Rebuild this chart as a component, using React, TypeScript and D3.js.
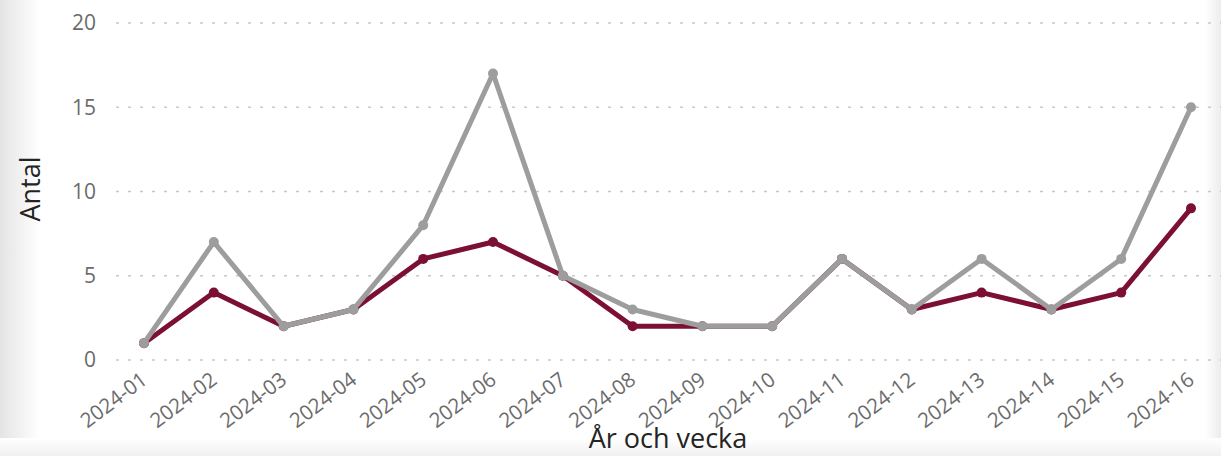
import React from "react";
import * as d3 from "d3";

const weeks = ["2024-01","2024-02","2024-03","2024-04","2024-05","2024-06","2024-07","2024-08","2024-09","2024-10","2024-11","2024-12","2024-13","2024-14","2024-15","2024-16"];
const seriesGray = [1,7,2,3,8,17,5,3,2,2,6,3,6,3,6,15];
const seriesRed = [1,4,2,3,6,7,5,2,2,2,6,3,4,3,4,9];
const yTicks = [0,5,10,15,20];

const W = 1221, H = 456;
const FONT = "'Open Sans', 'Noto Sans', sans-serif";

export default function App() {
  const x = d3.scalePoint<string>().domain(weeks).range([144, 1191]);
  const y = d3.scaleLinear().domain([0, 20]).range([360, 23]);
  const line = d3.line<number>().x((_, i) => x(weeks[i])!).y(d => y(d));

  const series = [
    { vals: seriesRed, color: "#7c1034" },
    { vals: seriesGray, color: "#9d9d9d" },
  ];

  return (
    <svg width={W} height={H} style={{ position: "absolute", left: 0, top: 0, display: "block" }}>
      <defs>
        <linearGradient id="lg" x1="0" x2="1" y1="0" y2="0">
          <stop offset="0" stopColor="#e4e4e4" />
          <stop offset="1" stopColor="#ffffff" />
        </linearGradient>
        <linearGradient id="rg" x1="0" x2="1" y1="0" y2="0">
          <stop offset="0" stopColor="#ffffff" />
          <stop offset="1" stopColor="#ececec" />
        </linearGradient>
        <linearGradient id="bg" x1="0" x2="0" y1="0" y2="1">
          <stop offset="0" stopColor="#ffffff" />
          <stop offset="1" stopColor="#f0f0f0" />
        </linearGradient>
      </defs>
      <rect x={0} y={0} width={W} height={H} fill="#fff" />
      <rect x={0} y={0} width={40} height={H} fill="url(#lg)" />
      <rect x={1205} y={0} width={16} height={H} fill="url(#rg)" />
      <rect x={0} y={438} width={W} height={18} fill="url(#bg)" />

      {yTicks.map(t => (
        <g key={t}>
          <line x1={116} x2={W} y1={y(t)} y2={y(t)} stroke="#c8c8c8" strokeWidth={1.5} strokeDasharray="3,9" />
          <text x={96} y={y(t)} dy="0.35em" textAnchor="end" fontFamily={FONT} fontSize={21} fill="#6b6b6b">{t}</text>
        </g>
      ))}

      {weeks.map(w => (
        <text key={w} transform={`translate(${x(w)! - 4},${371}) rotate(-37)`} textAnchor="end" dy="0.7em"
          fontFamily={FONT} fontSize={20.5} fill="#6b6b6b">{w}</text>
      ))}

      <text transform={`translate(40,189) rotate(-90)`} textAnchor="middle" fontFamily={FONT} fontSize={27} fill="#252423">Antal</text>
      <text x={668} y={448} textAnchor="middle" fontFamily={FONT} fontSize={27} fill="#252423">År och vecka</text>

      {series.map((s, si) => (
        <g key={si}>
          <path d={line(s.vals)!} fill="none" stroke={s.color} strokeWidth={5} strokeLinejoin="round" strokeLinecap="round" />
          {s.vals.map((v, i) => (
            <circle key={i} cx={x(weeks[i])!} cy={y(v)} r={5} fill={s.color} />
          ))}
        </g>
      ))}
    </svg>
  );
}
